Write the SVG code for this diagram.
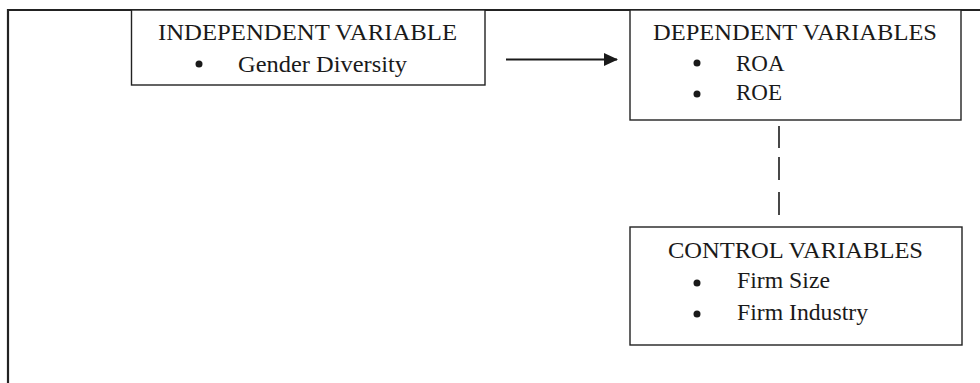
<svg xmlns="http://www.w3.org/2000/svg" width="980" height="383" viewBox="0 0 980 383">
<style>
.frame{fill:none;stroke:#222;stroke-width:2.2}
.box{fill:#fff;stroke:#222;stroke-width:1.4}
text{font-family:"Liberation Serif","Times New Roman",serif;font-size:23px;fill:#1a1a1a}
.bul{fill:#1a1a1a}
.conn{stroke:#1a1a1a;stroke-width:2;fill:none}
.dash{stroke:#1a1a1a;stroke-width:1.6;fill:none}
</style>
<defs>
<marker id="ah" markerWidth="14" markerHeight="13" refX="13" refY="6.5" orient="auto" markerUnits="userSpaceOnUse">
<path d="M0,0 L14,6.5 L0,13 Z" fill="#1a1a1a"/>
</marker>
</defs>
<rect width="980" height="383" fill="#fff"/>
<path class="frame" d="M8,390 L8,10 L985,10"/>
<g id="independent">
<rect class="box" x="131.5" y="10" width="353.5" height="75"/>
<text x="158" y="40" textLength="299" lengthAdjust="spacingAndGlyphs">INDEPENDENT VARIABLE</text>
<circle class="bul" cx="199" cy="64" r="3.5"/>
<text x="238" y="72" textLength="169" lengthAdjust="spacingAndGlyphs">Gender Diversity</text>
</g>
<g id="dependent">
<rect class="box" x="630" y="10" width="331" height="110"/>
<text x="653" y="40" textLength="284" lengthAdjust="spacingAndGlyphs">DEPENDENT VARIABLES</text>
<circle class="bul" cx="697" cy="63" r="3.5"/>
<text x="736" y="71">ROA</text>
<circle class="bul" cx="697" cy="94" r="3.5"/>
<text x="736" y="100">ROE</text>
</g>
<g id="control">
<rect class="box" x="630" y="227" width="332" height="118"/>
<text x="668" y="258" textLength="255" lengthAdjust="spacingAndGlyphs">CONTROL VARIABLES</text>
<circle class="bul" cx="697" cy="283" r="3.5"/>
<text x="737" y="288" textLength="93" lengthAdjust="spacingAndGlyphs">Firm Size</text>
<circle class="bul" cx="697" cy="314" r="3.5"/>
<text x="737" y="320" textLength="131" lengthAdjust="spacingAndGlyphs">Firm Industry</text>
</g>
<g id="connectors">
<line class="conn" x1="506" y1="59.5" x2="617" y2="59.5" marker-end="url(#ah)"/>
<line class="dash" x1="779" y1="126" x2="779" y2="148"/>
<line class="dash" x1="779" y1="157" x2="779" y2="180"/>
<line class="dash" x1="779" y1="192" x2="779" y2="215"/>
</g>
</svg>
